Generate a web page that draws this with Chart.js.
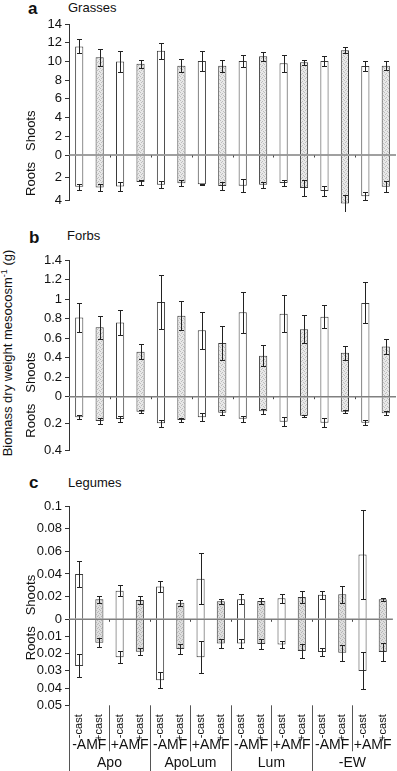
<!DOCTYPE html>
<html>
<head>
<meta charset="utf-8">
<script src="https://cdn.jsdelivr.net/npm/chart.js@4.4.1/dist/chart.umd.min.js"></script>
<style>
body { margin: 0; background: #fff; width: 397px; height: 771px; position: relative; overflow: hidden;
       font-family: "Liberation Sans", Arial, sans-serif; color: #111; }
canvas { position: absolute; left: 0; }
.lbl { position: absolute; white-space: nowrap; line-height: 1; }
.big { font-weight: bold; font-size: 17px; }
.ttl { font-size: 13px; }
#ytitle { left: 7px; top: 353px; font-size: 13px; transform: translate(-50%, -50%) rotate(-90deg); }
#ytitle sup { font-size: 9px; }
</style>
</head>
<body>

<div class="lbl big" style="left:28px;top:0px;">a</div>
<div class="lbl ttl" style="left:68px;top:1px;">Grasses</div>
<div class="lbl big" style="left:29px;top:229px;">b</div>
<div class="lbl ttl" style="left:67px;top:229px;">Forbs</div>
<div class="lbl big" style="left:29px;top:474px;">c</div>
<div class="lbl ttl" style="left:68px;top:476px;">Legumes</div>
<div class="lbl" id="ytitle">Biomass dry weight mesocosm<sup>-1</sup> (g)</div>

<canvas id="grassChart" width="397" height="212" style="top:0px"></canvas>
<canvas id="forbChart" width="397" height="250" style="top:215px"></canvas>
<canvas id="legumeChart" width="397" height="301" style="top:470px"></canvas>

<script>
// treatments (x categories)
const castLabels = ['-cast', '+cast', '-cast', '+cast', '-cast', '+cast', '-cast', '+cast',
                    '-cast', '+cast', '-cast', '+cast', '-cast', '+cast', '-cast', '+cast'];
const amfLabels = ['-AMF', '+AMF', '-AMF', '+AMF', '-AMF', '+AMF', '-AMF', '+AMF'];
const groupLabels = ['Apo', 'ApoLum', 'Lum', '-EW'];

// a Grasses
const grassShoots    = [11.6, 10.45, 10.0, 9.75, 11.15, 9.55, 10.05, 9.55, 10.05, 10.55, 9.8, 9.9, 10.05, 11.2, 9.5, 9.55];
const grassShootsErr = [0.75, 0.9, 1.1, 0.4, 0.85, 0.7, 1.1, 0.65, 0.6, 0.5, 0.9, 0.25, 0.55, 0.3, 0.5, 0.45];
const grassRoots     = [2.78, 2.84, 2.75, 2.37, 2.6, 2.48, 2.57, 2.72, 2.69, 2.6, 2.46, 2.89, 3.16, 4.24, 3.62, 2.78];
const grassRootsErr  = [0.25, 0.32, 0.42, 0.22, 0.3, 0.26, 0.07, 0.37, 0.57, 0.25, 0.25, 0.67, 0.41, 0.72, 0.36, 0.48];

// b Forbs
const forbShoots    = [0.81, 0.71, 0.76, 0.46, 0.97, 0.83, 0.68, 0.55, 0.865, 0.42, 0.85, 0.69, 0.82, 0.45, 0.96, 0.515];
const forbShootsErr = [0.15, 0.12, 0.13, 0.077, 0.28, 0.15, 0.19, 0.17, 0.21, 0.11, 0.19, 0.145, 0.12, 0.07, 0.21, 0.08];
const forbRoots     = [0.155, 0.183, 0.168, 0.113, 0.2, 0.175, 0.155, 0.12, 0.165, 0.11, 0.188, 0.143, 0.195, 0.113, 0.195, 0.125];
const forbRootsErr  = [0.015, 0.022, 0.024, 0.01, 0.025, 0.017, 0.03, 0.019, 0.022, 0.02, 0.034, 0.008, 0.034, 0.011, 0.021, 0.016];

// c Legumes
const legShoots    = [0.040, 0.0176, 0.0252, 0.017, 0.029, 0.0147, 0.0358, 0.0159, 0.0176, 0.0162, 0.0185, 0.0197, 0.0217, 0.022, 0.0573, 0.0176];
const legShootsErr = [0.0115, 0.0032, 0.0047, 0.0035, 0.0049, 0.0026, 0.0227, 0.002, 0.0044, 0.0026, 0.0038, 0.0049, 0.0037, 0.0078, 0.039, 0.0016];
const legRoots     = [0.0271, 0.0136, 0.0221, 0.0188, 0.0355, 0.0173, 0.0221, 0.014, 0.014, 0.0144, 0.0147, 0.0184, 0.019, 0.0194, 0.030, 0.019];
const legRootsErr  = [0.0067, 0.0026, 0.0034, 0.0022, 0.0047, 0.0029, 0.0092, 0.0025, 0.0024, 0.0027, 0.0018, 0.004, 0.0025, 0.0046, 0.0107, 0.0053];

const FONT = '"Liberation Sans", Arial, sans-serif';
Chart.defaults.font.family = FONT;
Chart.defaults.color = '#111';

// fine dotted fill for the +cast bars
function makeHatch(base, dot) {
    const c = document.createElement('canvas');
    c.width = 4; c.height = 4;
    const g = c.getContext('2d');
    g.fillStyle = base;
    g.fillRect(0, 0, 4, 4);
    g.fillStyle = dot;
    g.fillRect(0, 0, 1, 1);
    g.fillRect(2, 1, 1, 1);
    g.fillRect(1, 2, 1, 1);
    g.fillRect(3, 3, 1, 1);
    return g.createPattern(c, 'repeat');
}

function fills(pattern) {
    return castLabels.map(l => l === '-cast' ? '#ffffff' : pattern);
}

function fmt(v) {
    return String(+v.toFixed(3));
}

// zero line, error bars and Shoots/Roots labels
const panelMarks = {
    id: 'panelMarks',
    afterDatasetsDraw(chart) {
        const {ctx, chartArea: a, scales} = chart;
        const y0 = scales.ys.getPixelForValue(0);
        ctx.save();

        ctx.strokeStyle = '#808080';
        ctx.lineWidth = 1.5;
        ctx.beginPath();
        ctx.moveTo(a.left, y0);
        ctx.lineTo(a.right, y0);
        ctx.stroke();

        // little marks between treatment pairs
        ctx.strokeStyle = '#444';
        ctx.lineWidth = 1;
        for (let i = 2; i < castLabels.length; i += 2) {
            const xb = Math.round((scales.x.getPixelForValue(i - 1) + scales.x.getPixelForValue(i)) / 2) + 0.5;
            ctx.beginPath();
            ctx.moveTo(xb, y0 + 0.5);
            ctx.lineTo(xb, y0 + 2.5);
            ctx.stroke();
        }

        // error bars
        ctx.strokeStyle = '#222';
        chart.data.datasets.forEach((ds, di) => {
            const meta = chart.getDatasetMeta(di);
            const sc = scales[ds.yAxisID];
            meta.data.forEach((bar, i) => {
                const v = ds.data[i], e = ds.errors[i];
                const yt = Math.round(sc.getPixelForValue(v + e)) + 0.5;
                const yb = Math.round(sc.getPixelForValue(v - e)) + 0.5;
                const xc = Math.round(bar.x) + 0.5;
                ctx.beginPath();
                ctx.moveTo(xc, yt); ctx.lineTo(xc, yb);
                ctx.moveTo(xc - 2.5, yt); ctx.lineTo(xc + 2.5, yt);
                ctx.moveTo(xc - 2.5, yb); ctx.lineTo(xc + 2.5, yb);
                ctx.stroke();
            });
        });

        ctx.fillStyle = '#111';
        ctx.font = '13px ' + FONT;
        ctx.textBaseline = 'middle';
        ctx.save();
        ctx.translate(31, y0 - 4);
        ctx.rotate(-Math.PI / 2);
        ctx.textAlign = 'left';
        ctx.fillText('Shoots', 0, 0);
        ctx.restore();
        ctx.save();
        ctx.translate(31, y0 + 7);
        ctx.rotate(-Math.PI / 2);
        ctx.textAlign = 'right';
        ctx.fillText('Roots', 0, 0);
        ctx.restore();

        ctx.restore();
    }
};

// nested category labels under panel c
const treatmentAxis = {
    id: 'treatmentAxis',
    afterDraw(chart) {
        const {ctx, chartArea: a, scales: {x}} = chart;
        const px = i => x.getPixelForValue(i);
        const edge = i => i === 0 ? a.left : (px(i - 1) + px(i)) / 2;
        ctx.save();
        ctx.strokeStyle = '#555';
        ctx.lineWidth = 1;
        for (let i = 0; i < castLabels.length; i += 2) {
            const xe = Math.round(edge(i)) + 0.5;
            const long = i % 4 === 0;
            ctx.beginPath();
            ctx.moveTo(xe, a.bottom);
            ctx.lineTo(xe, long ? chart.height : a.bottom + 46);
            ctx.stroke();
        }
        ctx.fillStyle = '#111';
        ctx.font = '14px ' + FONT;
        ctx.textAlign = 'center';
        ctx.textBaseline = 'middle';
        amfLabels.forEach((l, k) => {
            ctx.fillText(l, (px(2 * k) + px(2 * k + 1)) / 2, a.bottom + 40);
        });
        groupLabels.forEach((l, g) => {
            ctx.fillText(l, (px(4 * g) + px(4 * g + 3)) / 2, a.bottom + 58);
        });
        ctx.restore();
    }
};

function yAxis(opts) {
    return {
        type: 'linear',
        position: 'left',
        stack: 'panel',
        stackWeight: opts.weight,
        weight: opts.top ? 1 : 0,
        reverse: !opts.top,
        min: 0,
        max: opts.max,
        afterFit(scale) { scale.width = 69; },
        ticks: {
            stepSize: opts.step,
            autoSkip: false,
            padding: 3,
            font: { size: 13 },
            callback: v => (!opts.top && v === 0) ? '' : fmt(v)
        },
        grid: { drawOnChartArea: false, tickLength: 4, color: '#333' },
        border: { color: '#333', width: 1 }
    };
}

function makePanel(id, cfg) {
    const ctx = document.getElementById(id).getContext('2d');
    const barStyle = {
        borderColor: '#3a3a3a',
        borderWidth: 1,
        grouped: false,
        clip: false,
        barPercentage: 0.4,
        categoryPercentage: 1
    };
    return new Chart(ctx, {
        type: 'bar',
        data: {
            labels: castLabels,
            datasets: [
                Object.assign({ label: 'Shoots', data: cfg.shoots, errors: cfg.shootsErr, yAxisID: 'ys',
                                backgroundColor: fills(cfg.pattern) }, barStyle),
                Object.assign({ label: 'Roots', data: cfg.roots, errors: cfg.rootsErr, yAxisID: 'yr',
                                backgroundColor: fills(cfg.pattern) }, barStyle)
            ]
        },
        options: {
            responsive: false,
            animation: false,
            layout: { padding: cfg.padding },
            plugins: { legend: { display: false }, tooltip: { enabled: false } },
            scales: {
                x: cfg.showX ? {
                    afterFit(scale) { scale.height = cfg.xHeight; },
                    grid: { display: false },
                    border: { display: false },
                    ticks: { autoSkip: false, maxRotation: 90, minRotation: 90, padding: 1, font: { size: 11 } }
                } : { display: false },
                ys: yAxis({ top: true, weight: cfg.shootH, max: cfg.shootMax, step: cfg.shootStep }),
                yr: yAxis({ top: false, weight: cfg.rootH, max: cfg.rootMax, step: cfg.rootStep })
            }
        },
        plugins: cfg.showX ? [panelMarks, treatmentAxis] : [panelMarks]
    });
}

const hatch = makeHatch('#e8e8e8', '#bdbdbd');
const legHatch = makeHatch('#dedede', '#b6b6b6');

makePanel('grassChart', {
    shoots: grassShoots, shootsErr: grassShootsErr, roots: grassRoots, rootsErr: grassRootsErr,
    pattern: hatch, shootMax: 14, shootStep: 2, rootMax: 4, rootStep: 2,
    shootH: 131, rootH: 45.7,
    padding: { top: 24, bottom: 11.3, left: 0, right: 1 }
});

makePanel('forbChart', {
    shoots: forbShoots, shootsErr: forbShootsErr, roots: forbRoots, rootsErr: forbRootsErr,
    pattern: hatch, shootMax: 1.4, shootStep: 0.2, rootMax: 0.4, rootStep: 0.2,
    shootH: 136.7, rootH: 53.3,
    padding: { top: 45, bottom: 15, left: 0, right: 1 }
});

makePanel('legumeChart', {
    shoots: legShoots, shootsErr: legShootsErr, roots: legRoots, rootsErr: legRootsErr,
    pattern: legHatch, shootMax: 0.1, shootStep: 0.02, rootMax: 0.05, rootStep: 0.01,
    shootH: 113.3, rootH: 86,
    showX: true, xHeight: 65.7,
    padding: { top: 36, bottom: 0, left: 0, right: 1 }
});
</script>
</body>
</html>
